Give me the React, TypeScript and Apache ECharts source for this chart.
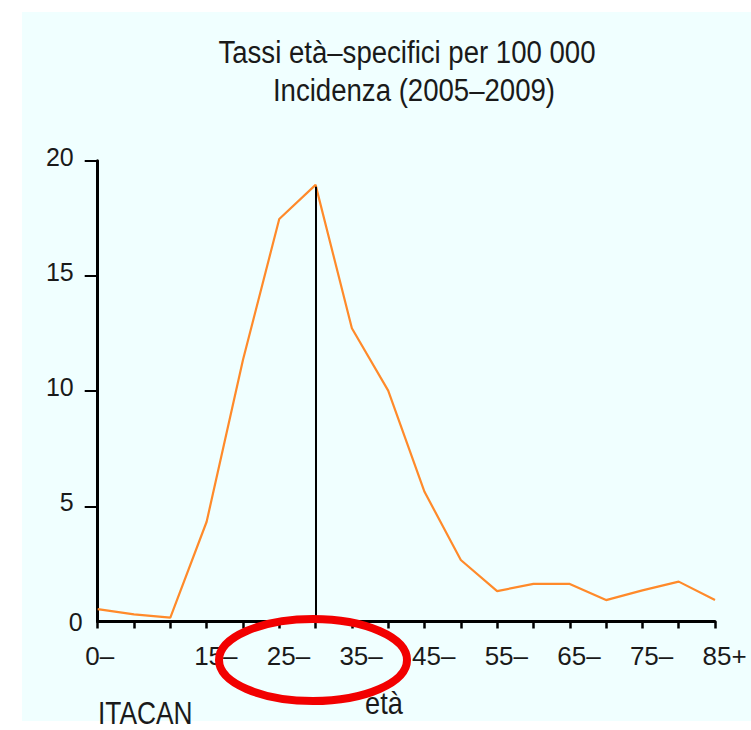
import React, { useEffect, useRef } from "react";
import * as echarts from "echarts";

const ageGroups = ["0–", "5–", "10–", "15–", "20–", "25–", "30–", "35–", "40–", "45–", "50–", "55–", "60–", "65–", "70–", "75–", "80–", "85+"];
const rates = [0.54, 0.31, 0.17, 4.33, 11.35, 17.47, 18.95, 12.73, 10.02, 5.63, 2.67, 1.32, 1.63, 1.63, 0.93, 1.35, 1.73, 0.93];
const yTickValues = [5, 10, 15, 20];
const titleLines = ["Tassi età–specifici per 100 000", "Incidenza (2005–2009)"];
const xAxisTitle = "età";
const sourceLabel = "ITACAN";
const peakCategory = "30–";
const peakLineTop = 18.87;

const FONT = '"Liberation Sans", Arial, sans-serif';
const NARROW = 0.85;

export default function App() {
  const ref = useRef<HTMLDivElement>(null);
  useEffect(() => {
    if (!ref.current) return;
    const chart = echarts.init(ref.current, null, { renderer: "svg" });
    chart.setOption({
      animation: false,
      backgroundColor: "#ffffff",
      textStyle: { fontFamily: FONT },
      grid: { left: 97.7, right: 36, top: 160.7, bottom: 108.5, outerBoundsMode: "none", containLabel: false },
      xAxis: {
        type: "category",
        data: ageGroups,
        boundaryGap: false,
        axisLine: { lineStyle: { color: "#000", width: 3 } },
        axisTick: { show: true, interval: 0, length: 7, lineStyle: { color: "#000", width: 2.5 } },
        axisLabel: {
          interval: (i: number) => i === 0 || (i % 2 === 1 && i >= 3),
          margin: 21,
          color: "#1a1a1a",
          fontSize: 26,
          fontFamily: FONT,
          align: "center",
          formatter: (v: string) => "{t|" + v + "}",
          rich: { t: { width: 25, align: "left", fontSize: 26, fontFamily: FONT, color: "#1a1a1a" } },
        },
        splitLine: { show: false },
      },
      yAxis: {
        type: "value",
        min: 0,
        max: 20,
        interval: 5,
        axisLine: { show: true, lineStyle: { color: "#000", width: 3 } },
        axisTick: { show: true, customValues: yTickValues, length: 13, lineStyle: { color: "#000", width: 2 } },
        axisLabel: {
          margin: 24,
          color: "#1a1a1a",
          fontSize: 25,
          fontFamily: FONT,
          formatter: (v: number) => (v === 0 ? "{z|0}" : "{n|" + v + "}"),
          rich: {
            z: { width: 5, align: "left", fontSize: 25, fontFamily: FONT, color: "#1a1a1a" },
            n: { fontSize: 25, fontFamily: FONT, color: "#1a1a1a", padding: [0, 0, 8, 0] },
          },
        },
        splitLine: { show: false },
      },
      series: [
        {
          type: "line",
          data: rates,
          symbol: "none",
          lineStyle: { color: "#ff8a2a", width: 2.2 },
          markLine: {
            silent: true,
            symbol: "none",
            label: { show: false },
            lineStyle: { color: "#000", width: 2, type: "solid" },
            data: [[{ coord: [peakCategory, 0] }, { coord: [peakCategory, peakLineTop] }]],
          },
        },
      ],
      graphic: [
        {
          type: "rect",
          z: -10,
          silent: true,
          shape: { x: 22, y: 12, width: 729, height: 709 },
          style: { fill: "#f0ffff" },
        },
        {
          type: "text",
          x: 407,
          y: 67,
          scaleX: 0.89,
          style: { text: titleLines[0], fontSize: 31, fontFamily: FONT, fill: "#1a1a1a", textAlign: "center", textVerticalAlign: "bottom" },
        },
        {
          type: "text",
          x: 414,
          y: 105,
          scaleX: 0.89,
          style: { text: titleLines[1], fontSize: 31, fontFamily: FONT, fill: "#1a1a1a", textAlign: "center", textVerticalAlign: "bottom" },
        },
        {
          type: "text",
          x: 384,
          y: 719,
          scaleX: NARROW,
          style: { text: xAxisTitle, fontSize: 32, fontFamily: FONT, fill: "#1a1a1a", textAlign: "center", textVerticalAlign: "bottom" },
        },
        {
          type: "text",
          x: 98,
          y: 729,
          scaleX: NARROW,
          style: { text: sourceLabel, fontSize: 31, fontFamily: FONT, fill: "#1a1a1a", textAlign: "left", textVerticalAlign: "bottom" },
        },
        {
          type: "ellipse",
          z: 100,
          shape: { cx: 313, cy: 660, rx: 94, ry: 41 },
          style: { fill: "none", stroke: "#f20000", lineWidth: 8 },
        },
      ],
    });
    return () => chart.dispose();
  }, []);
  return <div ref={ref} style={{ position: "absolute", left: 0, top: 0, width: 751, height: 730 }} />;
}
